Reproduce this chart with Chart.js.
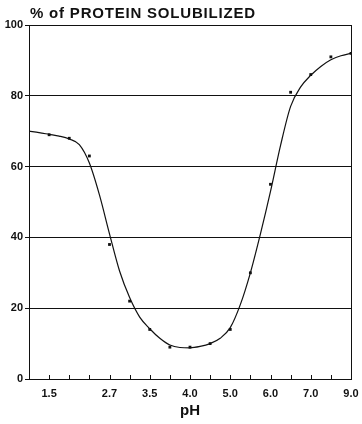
<!DOCTYPE html>
<html>
<head>
<meta charset="utf-8">
<script src="https://cdn.jsdelivr.net/npm/chart.js@4.4.1/dist/chart.umd.min.js"></script>
<style>
  html, body { margin: 0; padding: 0; background: #fff; }
  #wrap { width: 362px; height: 424px; }
</style>
</head>
<body>
<div id="wrap"><canvas id="mycanvas" width="362" height="424"></canvas></div>
<script>
// x positions are the evenly spaced sample steps of the original figure
var stepPos = [0, 1, 2, 3, 4, 5, 6, 7, 8, 9, 10, 11, 12, 13, 14, 15];
var solubilized = [69, 68, 63, 38, 22, 14, 9, 9, 10, 14, 30, 55, 81, 86, 91, 92];

// pH tick labels and the step where each one sits
var tickPos = [0, 3, 5, 7, 9, 11, 13, 15];
var tickLabels = ['1.5', '2.7', '3.5', '4.0', '5.0', '6.0', '7.0', '9.0'];

// hand drawn fitted curve
var curvePos = [-1, -0.5, 0, 0.5, 1, 1.5, 2, 2.5, 3, 3.5, 4, 4.5, 5, 5.5, 6, 6.5, 7, 7.5,
                8, 8.5, 9, 9.5, 10, 10.5, 11, 11.5, 12, 12.5, 13, 13.5, 14, 14.5, 15];
var curveVal = [70, 69.6, 69.1, 68.6, 67.8, 66.2, 61, 52, 41, 30.5, 23, 17.5, 14.2, 11.5, 9.6, 8.9, 8.8, 9.2,
                10, 11.5, 14.5, 21, 30, 41, 53, 66, 77, 82.5, 85.8, 88.3, 90.2, 91.3, 92];

var yTicks = [0, 20, 40, 60, 80, 100];

var points = [];
for (var i in stepPos) points.push({x: stepPos[i], y: solubilized[i]});
var curve = [];
for (var j in curvePos) curve.push({x: curvePos[j], y: curveVal[j]});

var frame = {
  id: 'frame',
  afterDraw: function(chart) {
    var ctx = chart.ctx, a = chart.chartArea, xs = chart.scales.x;
    ctx.save();
    ctx.strokeStyle = '#111';
    ctx.lineWidth = 1;
    ctx.strokeRect(Math.round(a.left) + 0.5, Math.round(a.top) + 0.5,
                   Math.round(a.right - a.left), Math.round(a.bottom - a.top));
    // small inside ticks on the pH axis
    ctx.beginPath();
    for (var k = 0; k < 15; k++) {
      var px = Math.round(xs.getPixelForValue(stepPos[k])) + 0.5;
      ctx.moveTo(px, a.bottom);
      ctx.lineTo(px, a.bottom - 4);
    }
    ctx.stroke();
    // heading
    ctx.fillStyle = '#111';
    ctx.font = 'bold 15px "Liberation Sans", Arial, sans-serif';
    ctx.letterSpacing = '0.8px';
    ctx.textAlign = 'left';
    ctx.textBaseline = 'alphabetic';
    ctx.fillText('% of PROTEIN SOLUBILIZED', a.left + 1, 18);
    ctx.restore();
  }
};

var ctx = document.getElementById('mycanvas');
var chart = new Chart(ctx, {
  type: 'line',
  data: {
    datasets: [
      {
        label: 'fit',
        data: curve,
        borderColor: '#111',
        borderWidth: 1.2,
        pointRadius: 0,
        cubicInterpolationMode: 'monotone',
        fill: false
      },
      {
        label: '% solubilized',
        data: points,
        showLine: false,
        pointStyle: 'rect',
        pointRadius: 2,
        pointBackgroundColor: '#111',
        pointBorderColor: '#111',
        pointBorderWidth: 0
      }
    ]
  },
  options: {
    responsive: false,
    animation: false,
    layout: { padding: { top: 25, right: 11, bottom: 0, left: 0 } },
    plugins: {
      legend: { display: false },
      tooltip: { enabled: false }
    },
    scales: {
      x: {
        type: 'linear',
        min: -1,
        max: 15,
        grid: { display: false, drawTicks: false },
        border: { display: false },
        afterBuildTicks: function(scale) {
          scale.ticks = tickPos.map(function(v) { return {value: v}; });
        },
        afterFit: function(scale) {
          scale.height = 45;
          scale.paddingLeft = 0;
          scale.paddingRight = 0;
        },
        ticks: {
          autoSkip: false,
          maxRotation: 0,
          padding: 8,
          color: '#111',
          font: { family: '"Liberation Sans", Arial, sans-serif', size: 11, weight: 'bold' },
          callback: function(v) { return tickLabels[tickPos.indexOf(v)]; }
        },
        title: {
          display: true,
          text: 'pH',
          color: '#111',
          padding: { top: 2, bottom: 4 },
          font: { family: '"Liberation Sans", Arial, sans-serif', size: 15, weight: 'bold' }
        }
      },
      y: {
        min: 0,
        max: 100,
        afterBuildTicks: function(scale) {
          scale.ticks = yTicks.map(function(v) { return {value: v}; });
        },
        afterFit: function(scale) { scale.width = 29; },
        grid: { color: '#111', lineWidth: 1, tickLength: 4 },
        border: { display: false },
        ticks: {
          padding: 2,
          color: '#111',
          font: { family: '"Liberation Sans", Arial, sans-serif', size: 11, weight: 'bold' }
        }
      }
    }
  },
  plugins: [frame]
});
</script>
</body>
</html>
